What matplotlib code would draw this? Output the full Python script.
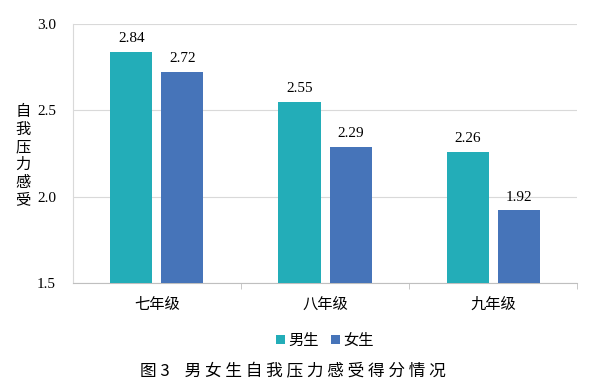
import numpy as np
import matplotlib.pyplot as plt

plt.rcParams['font.family'] = ['Liberation Serif', 'Noto Sans CJK SC']

grades = ["七年级", "八年级", "九年级"]
boys = [2.84, 2.55, 2.26]
girls = [2.72, 2.29, 1.92]
y_ticks = [1.5, 2.0, 2.5, 3.0]

cjk = ['Noto Sans CJK SC', 'DejaVu Sans']

fig = plt.figure(figsize=(5.97, 3.91), dpi=100)
ax = fig.add_axes([0.122, 0.276, 0.845, 0.663])

x = np.arange(len(grades))
w = 0.25
b1 = ax.bar(x - 0.152, boys, w, bottom=0, color="#23ADB8", label="男生", zorder=3)
b2 = ax.bar(x + 0.152, girls, w, bottom=0, color="#4674B9", label="女生", zorder=3)

for bars, vals in [(b1, boys), (b2, girls)]:
    for r, v in zip(bars, vals):
        ax.text(r.get_x() + r.get_width() / 2, v + 0.04, f"{v:.2f}",
                ha="center", va="bottom", fontsize=11)

ax.set_ylim(1.5, 3.0)
ax.set_xlim(-0.5, 2.5)
ax.set_yticks(y_ticks)
ax.set_yticklabels([f"{t:.1f}" for t in y_ticks], fontsize=11)
ax.yaxis.grid(True, color="#d9d9d9", linewidth=0.8, zorder=0)
ax.tick_params(axis="y", length=0, pad=12)

ax.set_xticks(x)
ax.set_xticklabels(grades, family=cjk, fontsize=11)
ax.set_xticks([0.5, 1.5, 2.5], minor=True)
ax.tick_params(axis="x", which="major", length=0, pad=9)
ax.tick_params(axis="x", which="minor", length=4, color="#bfbfbf")

for s in ["top", "right"]:
    ax.spines[s].set_visible(False)
ax.spines["left"].set_color("#d9d9d9")
ax.spines["bottom"].set_color("#bfbfbf")

fig.text(0.038, 0.602, "自\n我\n压\n力\n感\n受", family=cjk, fontsize=11,
         ha="center", va="center", linespacing=1.05)

ax.legend(loc="upper center", bbox_to_anchor=(0.5, -0.135), ncol=2, frameon=False,
          prop={"family": cjk, "size": 11}, handlelength=0.6, handleheight=0.6,
          handletextpad=0.2, columnspacing=0.8)

fig.text(0.49, 0.048, "图 3    男 女 生 自 我 压 力 感 受 得 分 情 况", family=cjk,
         fontsize=12, ha="center", va="center")

fig.savefig("out.png", dpi=100)
